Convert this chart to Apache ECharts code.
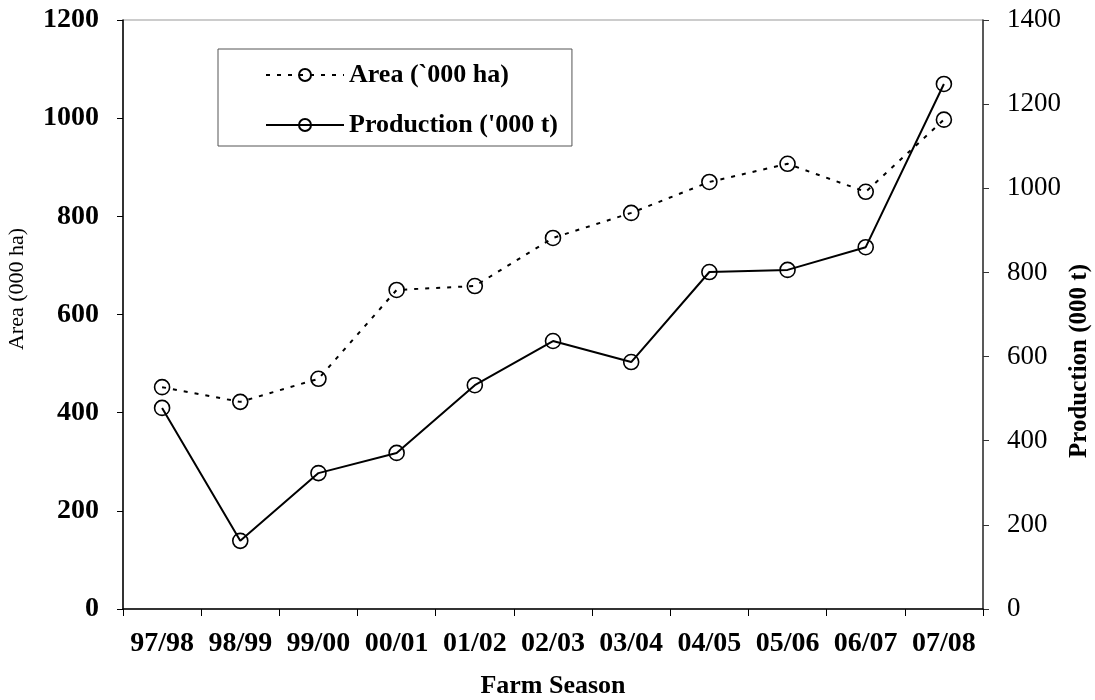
<!DOCTYPE html>
<html>
<head>
<meta charset="utf-8">
<script src="https://cdn.jsdelivr.net/npm/echarts@6/dist/echarts.min.js"></script>
<style>html,body{margin:0;padding:0;background:#fff;}#c{width:1095px;height:700px;}</style>
</head>
<body>
<div id="c"></div>
<script>
const seasons = ['97/98','98/99','99/00','00/01','01/02','02/03','03/04','04/05','05/06','06/07','07/08'];
const areaValues = [452, 422, 469, 650, 658, 756, 807, 870, 907, 850, 997];
const productionValues = [478, 162, 323, 371, 532, 637, 587, 801, 806, 860, 1248];
const areaTicks = [0, 200, 400, 600, 800, 1000, 1200];
const productionTicks = [0, 200, 400, 600, 800, 1000, 1200, 1400];

const FONT = '"Liberation Serif", "Times New Roman", serif';
const chart = echarts.init(document.getElementById('c'), null, {renderer: 'canvas'});
chart.setOption({
  backgroundColor: '#fff',
  animation: false,
  textStyle: {fontFamily: FONT, color: '#000'},
  grid: {left: 123, right: 112, top: 20, bottom: 91, containLabel: false, outerBoundsMode: 'none',
         show: true, borderColor: '#999', borderWidth: 1, backgroundColor: 'transparent'},
  legend: {
    orient: 'vertical', left: 218, top: 49,
    padding: [13, 14, 8, 47], itemGap: 24, itemWidth: 78, itemHeight: 15,
    borderColor: '#555', borderWidth: 1,
    textStyle: {fontFamily: FONT, fontWeight: 'bold', fontSize: 26, lineHeight: 26, color: '#000', padding: [0,0,0,0]},
    data: [
      {name: 'Area (`000 ha)'},
      {name: "Production ('000 t)"}
    ]
  },
  xAxis: {
    type: 'category', data: seasons, boundaryGap: true,
    axisLine: {lineStyle: {color: '#000', width: 1.5}},
    axisTick: {show: true, length: 7, lineStyle: {color: '#000'}},
    axisLabel: {fontFamily: FONT, fontWeight: 'bold', fontSize: 28, color: '#000', margin: 21, interval: 0},
    name: 'Farm Season', nameLocation: 'middle', nameGap: 64,
    nameTextStyle: {fontFamily: FONT, fontWeight: 'bold', fontSize: 26, color: '#000'}
  },
  yAxis: [
    {
      type: 'value', min: areaTicks[0], max: areaTicks[areaTicks.length-1], interval: 200, position: 'left',
      axisLine: {show: true, lineStyle: {color: '#000', width: 1.5}},
      axisTick: {show: true, length: 6, lineStyle: {color: '#000'}},
      splitLine: {show: false},
      axisLabel: {fontFamily: FONT, fontWeight: 'bold', fontSize: 28, color: '#000', margin: 24, formatter: v => String(v)}
    },
    {
      type: 'value', min: productionTicks[0], max: productionTicks[productionTicks.length-1], interval: 200, position: 'right',
      axisLine: {show: true, lineStyle: {color: '#333', width: 1.5}},
      axisTick: {show: true, length: 6, lineStyle: {color: '#333'}},
      splitLine: {show: false},
      axisLabel: {fontFamily: FONT, fontWeight: 'normal', fontSize: 27, color: '#000', margin: 24, formatter: v => String(v)}
    }
  ],
  graphic: [
    {type: 'text', x: 17, y: 289, rotation: Math.PI/2,
     style: {text: 'Area (000 ha)', fontFamily: FONT, fontSize: 22, fill: '#000', align: 'center', verticalAlign: 'middle'}},
    {type: 'text', x: 1080, y: 361, rotation: Math.PI/2,
     style: {text: 'Production (000 t)', fontFamily: FONT, fontWeight: 'bold', fontSize: 25, fill: '#000', align: 'center', verticalAlign: 'middle'}}
  ],
  series: [
    {
      name: 'Area (`000 ha)', type: 'line', yAxisIndex: 0, data: areaValues,
      symbol: 'circle', symbolSize: 15, showSymbol: true,
      lineStyle: {color: '#000', width: 2, type: [4, 7]},
      itemStyle: {color: 'rgba(255,255,255,0)', borderColor: '#000', borderWidth: 1.6},
      z: 3
    },
    {
      name: "Production ('000 t)", type: 'line', yAxisIndex: 1, data: productionValues,
      symbol: 'circle', symbolSize: 15, showSymbol: true,
      lineStyle: {color: '#000', width: 2},
      itemStyle: {color: 'rgba(255,255,255,0)', borderColor: '#000', borderWidth: 1.6},
      z: 4
    }
  ]
});
</script>
</body>
</html>
